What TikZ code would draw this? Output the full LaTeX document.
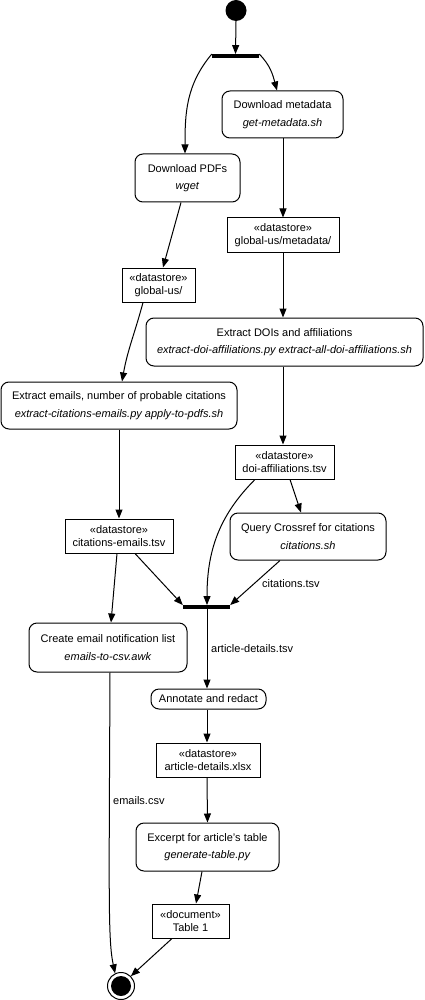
\documentclass[tikz,border=0pt]{standalone}
\usepackage{fontspec}
\setmainfont{Liberation Sans}
\usetikzlibrary{arrows.meta,calc}
\begin{document}
\begin{tikzpicture}[x=1pt,y=-1pt,
  every node/.style={font=\fontsize{11}{13}\selectfont, inner sep=0pt},
  act/.style={draw, rounded corners=8pt, line width=1pt, align=center, font=\fontsize{11}{17.5}\selectfont},
  store/.style={draw, rectangle, line width=1pt, align=center, font=\fontsize{11}{13}\selectfont},
  bar/.style={fill=black, draw=none, rectangle},
  flow/.style={line width=1pt, -{Triangle[length=9pt,width=7pt]}},
  lbl/.style={anchor=west, font=\fontsize{11}{13}\selectfont}]
\useasboundingbox (0,0) rectangle (424,1000);
% nodes
\node[circle, fill=black, minimum size=21pt] (start) at (236,10.5) {};
\node[bar, minimum width=47pt, minimum height=3.5pt] (fork) at (235.5,56) {};
\node[act, minimum width=121pt, minimum height=47pt] (dlmeta) at (282.5,114.5) {Download metadata\\\textit{get-metadata.sh}};
\node[act, minimum width=105pt, minimum height=48pt] (dlpdf) at (187.5,178) {Download PDFs\\\textit{wget}};
\node[store, minimum width=112pt, minimum height=34pt] (gmeta) at (283,235) {«datastore»\\global-us/metadata/};
\node[store, minimum width=73pt, minimum height=34pt] (gus) at (158.5,285) {«datastore»\\global-us/};
\node[act, minimum width=277pt, minimum height=48pt] (exdoi) at (284.5,342) {Extract DOIs and affiliations\\\textit{extract-doi-affiliations.py extract-all-doi-affiliations.sh}};
\node[act, minimum width=236pt, minimum height=47pt] (exem) at (119,405.5) {Extract emails, number of probable citations\\\textit{extract-citations-emails.py apply-to-pdfs.sh}};
\node[store, minimum width=99pt, minimum height=34pt] (doiaff) at (284.5,462) {«datastore»\\doi-affiliations.tsv};
\node[store, minimum width=108pt, minimum height=34pt] (citem) at (119,536) {«datastore»\\citations-emails.tsv};
\node[act, minimum width=156pt, minimum height=47pt] (query) at (308,536.5) {Query Crossref for citations\\\textit{citations.sh}};
\node[bar, minimum width=47pt, minimum height=3.5pt] (join) at (206.5,607) {};
\node[act, minimum width=158pt, minimum height=49pt] (create) at (108,647.5) {Create email notification list\\\textit{emails-to-csv.awk}};
\node[act, minimum width=115pt, minimum height=20pt] (annot) at (208.5,699) {Annotate and redact};
\node[store, minimum width=104pt, minimum height=34pt] (adx) at (208,760) {«datastore»\\article-details.xlsx};
\node[act, minimum width=143pt, minimum height=48pt] (excerpt) at (207.5,847) {Excerpt for article's table\\\textit{generate-table.py}};
\node[store, minimum width=77pt, minimum height=34pt] (table) at (190.5,921) {«document»\\Table 1};
\node[circle, draw, line width=1pt, minimum size=27pt] (end) at (121,986) {};
\node[circle, fill=black, minimum size=20pt] (endin) at (121,986) {};
% connectors
\draw[flow] (start.south) -- (fork.north);
\draw[flow] (fork.north east) to[out=-45,in=105] ($(dlmeta.north)+(-5.5,0)$);
\draw[flow] (fork.north west) to[out=-130,in=90] ($(dlpdf.north)+(-2.5,0)$);
\draw[flow] ($(dlmeta.south)+(0.5,0)$) -- (gmeta.north);
\draw[flow] ($(dlpdf.south)+(-6.5,0)$) -- ($(gus.north)+(4.5,0)$);
\draw[flow] (gmeta.south) -- (gmeta.south |- exdoi.north);
\draw[flow] ($(gus.south)+(-15.5,0)$) to[out=-105,in=80] ($(exem.north)+(3,0)$);
\draw[flow] ($(exdoi.south)+(-1.5,0)$) -- ($(doiaff.north)+(-1.5,0)$);
\draw[flow] (exem.south) -- (citem.north);
\draw[flow] ($(doiaff.south)+(5.5,0)$) -- ($(query.north)+(-7,0)$);
\draw[flow] ($(doiaff.south)+(-29.5,0)$) to[out=-135,in=90] ($(join.north)+(0.5,0)$);
\draw[flow] ($(citem.south)+(16,0)$) -- (join.north west);
\draw[flow] ($(query.south)+(-28,0)$) -- (join.north east);
\node[lbl] (lcit) at (262,584) {citations.tsv};
\draw[flow] ($(citem.south)+(-2,0)$) -- ($(create.north)+(3,0)$);
\draw[flow] ($(join.south)+(0.5,0)$) -- ($(annot.north)+(-1.5,0)$);
\node[lbl] (lart) at (211,649) {article-details.tsv};
\draw[flow] ($(annot.south)+(-1.5,0)$) -- ($(adx.north)+(-1,0)$);
\draw[flow] ($(adx.south)+(-1,0)$) -- (excerpt.north);
\draw[flow] ($(excerpt.south)+(-5.5,0)$) -- ($(table.north)+(5.5,0)$);
\draw[flow] ($(table.south)+(-18.5,0)$) -- (end.north east);
\draw[flow] ($(create.south)+(2,0)$) .. controls (109,900) and (108,940) .. (end.115);
\node[lbl] (lem) at (113,801) {emails.csv};
\end{tikzpicture}
\end{document}
